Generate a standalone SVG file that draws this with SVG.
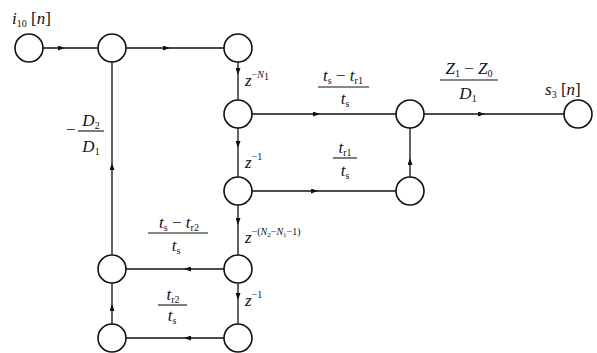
<svg xmlns="http://www.w3.org/2000/svg" width="597" height="353" viewBox="0 0 597 353">
<defs>
<marker id="ah" viewBox="0 0 7 5" refX="7" refY="2.5" markerWidth="7" markerHeight="5" markerUnits="userSpaceOnUse" orient="auto">
<path d="M0,0 L7,2.5 L0,5 Z" fill="#111"/>
</marker>
<style>
.n{fill:#fff;stroke:#111;stroke-width:1.6}
.e{fill:none;stroke:#111;stroke-width:1.3;marker-mid:url(#ah)}
.fl{stroke:#111;stroke-width:1.1}
text{font-family:"Liberation Serif","Times New Roman",serif;fill:#111;font-size:17px}
.i{font-style:italic}
.s{font-size:10px}
.sp{font-size:10px;font-style:italic}
</style>
</defs>
<rect width="597" height="353" fill="#fff"/>
<g id="connectors">
<path class="e" d="M43,48 L65,48 L98,48"/>
<path class="e" d="M126,48 L170,48 L224,48"/>
<path class="e" d="M238,62 L238,75 L238,100"/>
<path class="e" d="M252,114 L320,114 L396,114"/>
<path class="e" d="M424,114 L485,114 L564,114"/>
<path class="e" d="M238,128 L238,148 L238,177"/>
<path class="e" d="M252,191 L318,191 L396,191"/>
<path class="e" d="M410,177 L410,158 L410,128"/>
<path class="e" d="M238,205 L238,225 L238,255"/>
<path class="e" d="M224,269 L184,269 L126,269"/>
<path class="e" d="M238,283 L238,300 L238,324"/>
<path class="e" d="M224,338 L184,338 L126,338"/>
<path class="e" d="M112,324 L112,304 L112,283"/>
<path class="e" d="M112,255 L112,163 L112,62"/>
</g>
<g id="nA"><circle class="n" cx="29" cy="48" r="14"/></g>
<g id="nB"><circle class="n" cx="112" cy="48" r="14"/></g>
<g id="nC"><circle class="n" cx="238" cy="48" r="14"/></g>
<g id="nD"><circle class="n" cx="238" cy="114" r="14"/></g>
<g id="nE"><circle class="n" cx="410" cy="114" r="14"/></g>
<g id="nS"><circle class="n" cx="578" cy="114" r="14"/></g>
<g id="nF"><circle class="n" cx="238" cy="191" r="14"/></g>
<g id="nG"><circle class="n" cx="410" cy="191" r="14"/></g>
<g id="nH"><circle class="n" cx="238" cy="269" r="14"/></g>
<g id="nI"><circle class="n" cx="112" cy="269" r="14"/></g>
<g id="nJ"><circle class="n" cx="238" cy="338" r="14"/></g>
<g id="nK"><circle class="n" cx="112" cy="338" r="14"/></g>
<g id="labels">
<text x="12" y="24"><tspan class="i">i</tspan><tspan class="s" dy="3">10</tspan><tspan dy="-3"> [</tspan><tspan class="i">n</tspan>]</text>
<text x="545" y="95"><tspan class="i">s</tspan><tspan class="s" dy="3">3</tspan><tspan dy="-3"> [</tspan><tspan class="i">n</tspan>]</text>
<text x="245" y="86"><tspan class="i">z</tspan><tspan class="s" dy="-8">−</tspan><tspan class="sp">N</tspan><tspan class="s" font-size="7" dy="2">1</tspan></text>
<text x="245" y="168"><tspan class="i">z</tspan><tspan class="s" dy="-8">−1</tspan></text>
<text x="245" y="243"><tspan class="i">z</tspan><tspan class="s" dy="-8">−(</tspan><tspan class="sp">N</tspan><tspan style="font-size:7px" dy="2">2</tspan><tspan class="s" dy="-2">−</tspan><tspan class="sp">N</tspan><tspan style="font-size:7px" dy="2">1</tspan><tspan class="s" dy="-2">−1)</tspan></text>
<text x="245" y="306"><tspan class="i">z</tspan><tspan class="s" dy="-8">−1</tspan></text>
<text x="343" y="81" text-anchor="middle"><tspan class="i">t</tspan><tspan class="s" dy="3">s</tspan><tspan dy="-3"> − </tspan><tspan class="i">t</tspan><tspan class="s" dy="3">r1</tspan></text>
<line class="fl" x1="318" y1="87" x2="369" y2="87"/>
<text x="345" y="104" text-anchor="middle"><tspan class="i">t</tspan><tspan class="s" dy="3">s</tspan></text>
<text x="345" y="153" text-anchor="middle"><tspan class="i">t</tspan><tspan class="s" dy="3">r1</tspan></text>
<line class="fl" x1="333" y1="158" x2="357" y2="158"/>
<text x="345" y="176" text-anchor="middle"><tspan class="i">t</tspan><tspan class="s" dy="3">s</tspan></text>
<text x="469" y="74" text-anchor="middle"><tspan class="i">Z</tspan><tspan class="s" dy="3">1</tspan><tspan dy="-3"> − </tspan><tspan class="i">Z</tspan><tspan class="s" dy="3">0</tspan></text>
<line class="fl" x1="440" y1="80" x2="498" y2="80"/>
<text x="468" y="99" text-anchor="middle"><tspan class="i">D</tspan><tspan class="s" dy="3">1</tspan></text>
<text x="66" y="135">−</text>
<text x="91" y="126" text-anchor="middle"><tspan class="i">D</tspan><tspan class="s" dy="3">2</tspan></text>
<line class="fl" x1="78" y1="131" x2="104" y2="131"/>
<text x="91" y="152" text-anchor="middle"><tspan class="i">D</tspan><tspan class="s" dy="3">1</tspan></text>
<text x="179" y="228" text-anchor="middle"><tspan class="i">t</tspan><tspan class="s" dy="3">s</tspan><tspan dy="-3"> − </tspan><tspan class="i">t</tspan><tspan class="s" dy="3">r2</tspan></text>
<line class="fl" x1="148" y1="233" x2="208" y2="233"/>
<text x="176" y="251" text-anchor="middle"><tspan class="i">t</tspan><tspan class="s" dy="3">s</tspan></text>
<text x="173" y="300" text-anchor="middle"><tspan class="i">t</tspan><tspan class="s" dy="3">r2</tspan></text>
<line class="fl" x1="158" y1="305" x2="187" y2="305"/>
<text x="172" y="321" text-anchor="middle"><tspan class="i">t</tspan><tspan class="s" dy="3">s</tspan></text>
</g>
</svg>
